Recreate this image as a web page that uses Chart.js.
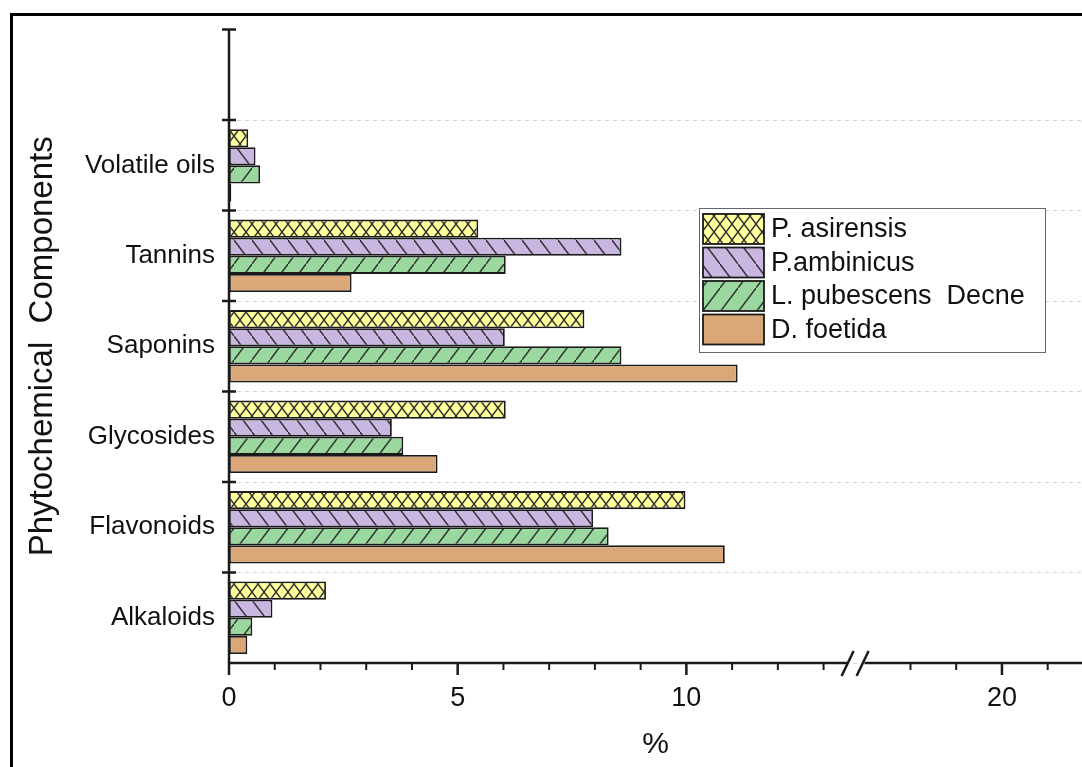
<!DOCTYPE html>
<html>
<head>
<meta charset="utf-8">
<script src="https://cdn.jsdelivr.net/npm/chart.js@4.4.1/dist/chart.umd.min.js"></script>
<style>
  html, body { margin: 0; padding: 0; background: #fff; }
  #wrap { width: 1082px; height: 767px; }
</style>
</head>
<body>
<div id="wrap"><canvas id="chart" width="1082" height="767"></canvas></div>
<script>
/* data, top row of the plot first */
const categories = ["", "Volatile oils", "Tannins", "Saponins", "Glycosides", "Flavonoids", "Alkaloids"];
const seriesNames = ["P. asirensis", "P.ambinicus", "L. pubescens  Decne", "D. foetida"];
const asirensis = [null, 0.42, 5.45, 7.77, 6.05, 9.98, 2.12];
const ambinicus = [null, 0.58, 8.58, 6.03, 3.56, 7.96, 0.95];
const pubescens = [null, 0.68, 6.05, 8.58, 3.81, 8.30, 0.51];
const foetida   = [null, 0.05, 2.68, 11.12, 4.56, 10.84, 0.40];

const xMajorTicks = [0, 5, 10, 20];
const xMinorTicks = [1, 2, 3, 4, 6, 7, 8, 9, 11, 12, 13, 18, 19, 21];
const breakFrom = 13.7, breakTo = 16.8, xMax = 21.75;

const gap = breakTo - breakFrom;
const toDisplay = v => v <= breakFrom ? v : v - gap;
const toReal = d => d <= breakFrom ? d : d + gap;

Chart.defaults.font.family = "'Liberation Sans', Arial, sans-serif";
Chart.defaults.color = "#111";

const canvas = document.getElementById("chart");
const mainCtx = canvas.getContext("2d");

function makePattern(w, h, bg, draw) {
  const c = document.createElement("canvas");
  c.width = w; c.height = h;
  const g = c.getContext("2d");
  g.fillStyle = bg;
  g.fillRect(0, 0, w, h);
  g.strokeStyle = "#2e2e2e";
  g.lineWidth = 1.4;
  draw(g, w, h);
  return mainCtx.createPattern(c, "repeat");
}

// hatch fills like the origin plot
const fills = [
  makePattern(12, 16, "#ffff9c", (g, w, h) => {
    g.beginPath();
    g.moveTo(0, 0); g.lineTo(w, h);
    g.moveTo(w, 0); g.lineTo(0, h);
    g.stroke();
  }),
  makePattern(18, 24, "#c9b7e2", (g, w, h) => {
    g.beginPath();
    g.moveTo(-w, -h); g.lineTo(2 * w, 2 * h);
    g.stroke();
  }),
  makePattern(18, 24, "#9bd89f", (g, w, h) => {
    g.beginPath();
    g.moveTo(-w, 2 * h); g.lineTo(2 * w, -h);
    g.stroke();
  }),
  makePattern(4, 4, "#dcaa7a", (g) => {
    g.fillStyle = "#c99566";
    g.fillRect(0, 0, 1, 1);
    g.fillRect(2, 2, 1, 1);
  })
];

const seriesValues = [asirensis, ambinicus, pubescens, foetida];

/* axes, break marks, frame and legend */
const decor = {
  id: "decor",
  afterDraw(chart) {
    const { ctx, chartArea: a, scales: { x } } = chart;
    ctx.save();

    // outer frame
    ctx.strokeStyle = "#000";
    ctx.lineWidth = 3;
    ctx.beginPath();
    ctx.moveTo(11.5, 767);
    ctx.lineTo(11.5, 14.5);
    ctx.lineTo(1082, 14.5);
    ctx.stroke();

    ctx.strokeStyle = "#1a1a1a";
    ctx.lineWidth = 2.5;

    // y axis + ticks at category boundaries
    ctx.beginPath();
    ctx.moveTo(a.left, a.top);
    ctx.lineTo(a.left, a.bottom);
    const step = (a.bottom - a.top) / categories.length;
    for (let i = 0; i < categories.length; i++) {
      const yy = a.top + i * step;
      ctx.moveTo(a.left - 7, yy);
      ctx.lineTo(a.left + 7, yy);
    }
    ctx.stroke();

    // x axis with break
    const bx = x.getPixelForValue(breakFrom);
    ctx.beginPath();
    ctx.moveTo(a.left, a.bottom);
    ctx.lineTo(bx - 8, a.bottom);
    ctx.moveTo(bx + 9, a.bottom);
    ctx.lineTo(a.right, a.bottom);
    xMajorTicks.forEach(v => {
      const px = x.getPixelForValue(toDisplay(v));
      ctx.moveTo(px, a.bottom);
      ctx.lineTo(px, a.bottom + 12);
    });
    ctx.stroke();
    ctx.lineWidth = 2;
    ctx.beginPath();
    xMinorTicks.forEach(v => {
      const px = x.getPixelForValue(toDisplay(v));
      ctx.moveTo(px, a.bottom);
      ctx.lineTo(px, a.bottom + 7);
    });
    ctx.stroke();

    ctx.lineWidth = 2.5;
    ctx.beginPath();
    [bx - 8, bx + 7].forEach(c => {
      ctx.moveTo(c - 6, a.bottom + 13);
      ctx.lineTo(c + 6, a.bottom - 12);
    });
    ctx.stroke();

    // legend
    const lx = 699, ly = 208, lw = 346, lh = 144;
    ctx.fillStyle = "#fff";
    ctx.fillRect(lx, ly, lw, lh);
    ctx.strokeStyle = "#666";
    ctx.lineWidth = 1;
    ctx.strokeRect(lx + 0.5, ly + 0.5, lw, lh);
    ctx.font = "27px 'Liberation Sans', Arial, sans-serif";
    ctx.textBaseline = "middle";
    ctx.textAlign = "left";
    seriesNames.forEach((name, i) => {
      const cy = 229 + i * 33.5;
      ctx.fillStyle = fills[i];
      ctx.fillRect(703, cy - 15, 61, 30);
      ctx.strokeStyle = "#1a1a1a";
      ctx.lineWidth = 1.8;
      ctx.strokeRect(703, cy - 15, 61, 30);
      ctx.fillStyle = "#111";
      ctx.fillText(name, 771, cy + 1);
    });

    ctx.restore();
  }
};

new Chart(canvas, {
  type: "bar",
  data: {
    labels: categories,
    datasets: seriesValues.map((vals, i) => ({
      label: seriesNames[i],
      data: vals,
      backgroundColor: fills[i],
      borderColor: "#1a1a1a",
      borderWidth: 1.8,
      borderSkipped: false,
      categoryPercentage: 0.8,
      barPercentage: 1.0
    }))
  },
  options: {
    indexAxis: "y",
    responsive: false,
    devicePixelRatio: 1,
    animation: false,
    layout: { padding: { top: 27, left: 0, right: 0, bottom: 0 } },
    plugins: {
      legend: { display: false },
      tooltip: { enabled: false }
    },
    scales: {
      x: {
        type: "linear",
        min: 0,
        max: toDisplay(xMax),
        afterBuildTicks: s => { s.ticks = xMajorTicks.map(v => ({ value: toDisplay(v) })); },
        afterFit: s => { s.height = 104; },
        ticks: {
          callback: v => String(Math.round(toReal(v))),
          font: { size: 27 },
          padding: 19,
          maxRotation: 0,
          autoSkip: false
        },
        grid: { display: false, drawTicks: false },
        border: { display: false },
        title: {
          display: true,
          text: "%",
          font: { size: 30 },
          padding: { top: 0, bottom: 4 }
        }
      },
      y: {
        type: "category",
        afterFit: s => { s.width = 229; },
        ticks: { font: { size: 26 }, padding: 14 },
        grid: {
          color: c => c.index === 0 ? "rgba(0,0,0,0)" : "#d4d4d4",
          lineWidth: 1,
          drawTicks: false
        },
        border: { display: false, dash: [4, 4] },
        title: {
          display: true,
          text: "Phytochemical  Components",
          font: { size: 33 },
          padding: { top: 23, bottom: 0 }
        }
      }
    }
  },
  plugins: [decor]
});
</script>
</body>
</html>
